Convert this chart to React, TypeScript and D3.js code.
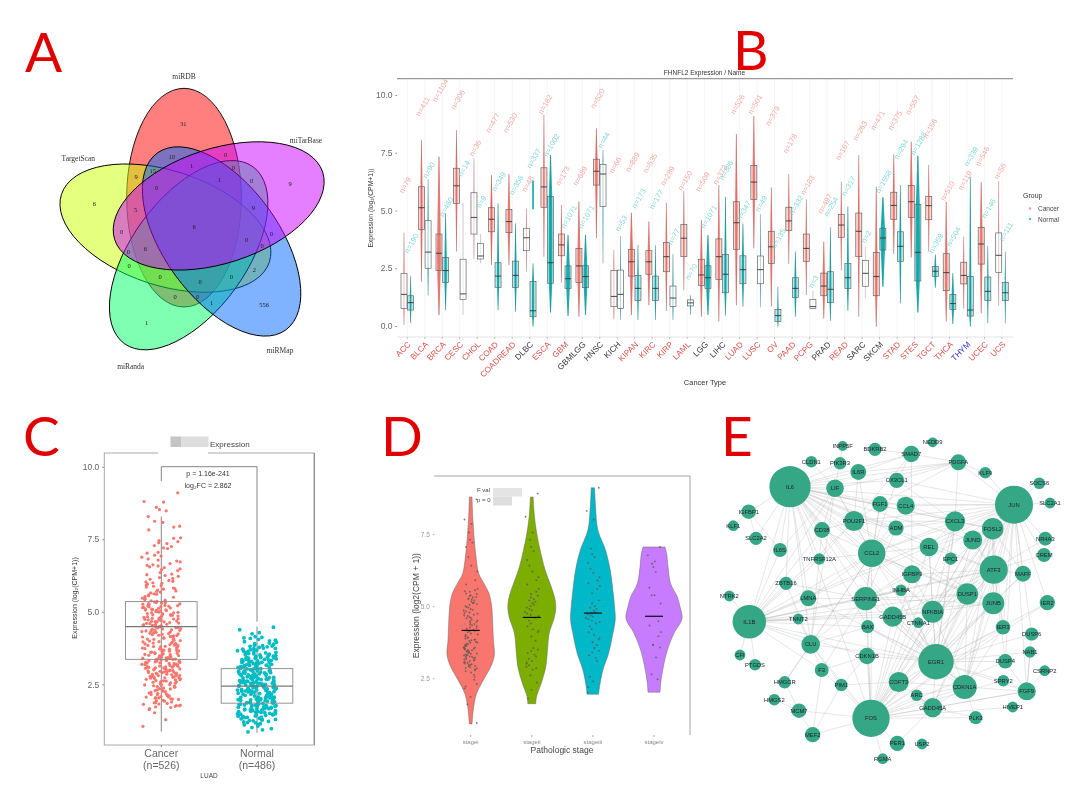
import { useEffect, useRef } from "react";
import * as d3 from "d3";

const vennColors = ["#ff0000", "#cc00ff", "#0066ff", "#00ff66", "#ccff00"];
const vennDrawOrder = [0, 4, 3, 2, 1];
const vennSetLabels: [string, number, number][] = [
  ["miRDB", 492, 170], ["miTarBase", 858, 360], ["TargetScan", 175, 416], ["miRMap", 780, 990], ["miRanda", 332, 1040],
];
const vennCounts: [string, number, number][] = [
  ["31", 490, 312], ["10", 455, 410], ["0", 617, 404], ["0", 640, 442], ["1", 515, 436], ["9", 348, 470], ["15", 398, 452],
  ["0", 410, 503], ["1", 598, 478], ["0", 695, 482], ["9", 810, 491], ["6", 223, 550], ["5", 347, 570], ["9", 700, 563],
  ["6", 522, 621], ["0", 305, 636], ["0", 754, 642], ["0", 680, 660], ["0", 726, 678], ["6", 376, 686], ["0", 325, 695],
  ["0", 327, 738], ["2", 703, 750], ["0", 420, 770], ["0", 540, 784], ["0", 634, 770], ["0", 465, 830], ["0", 533, 830],
  ["1", 575, 847], ["556", 732, 855], ["1", 380, 907],
];

// Panel B - pan-cancer boxes
const cancerTypes = ["ACC", "BLCA", "BRCA", "CESC", "CHOL", "COAD", "COADREAD", "DLBC", "ESCA", "GBM", "GBMLGG", "HNSC", "KICH", "KIPAN", "KIRC", "KIRP", "LAML", "LGG", "LIHC", "LUAD", "LUSC", "OV", "PAAD", "PCPG", "PRAD", "READ", "SARC", "SKCM", "STAD", "STES", "TGCT", "THCA", "THYM", "UCEC", "UCS"];
const blackTypes = ["DLBC", "GBMLGG", "HNSC", "KICH", "LGG", "LIHC", "PRAD", "SARC", "SKCM"];
const blueTypes = ["THYM"];
const cancerQ3 = [2.28, 6.03, 3.98, 6.83, 5.77, 5.12, 5.05, 4.23, 6.85, 3.98, 3.36, 7.22, 2.4, 3.32, 3.26, 3.62, 4.39, 2.89, 3.77, 5.38, 6.95, 4.1, 5.14, 3.98, 2.29, 4.83, 4.89, 3.19, 5.79, 6.08, 5.61, 3.13, 2.76, 4.27, 4.03];
const cancerMed = [1.37, 5.12, 3.15, 6.07, 4.7, 4.62, 4.52, 3.82, 6.02, 3.51, 2.6, 6.7, 1.28, 2.78, 2.78, 3.0, 3.8, 2.21, 3.0, 4.47, 6.23, 3.43, 4.55, 3.36, 1.73, 4.37, 4.1, 2.14, 5.22, 5.38, 5.21, 2.31, 2.19, 3.55, 3.06];
const cancerQ1 = [0.76, 4.18, 2.4, 5.31, 3.98, 4.08, 4.04, 3.26, 5.14, 3.04, 1.89, 6.1, 0.84, 2.16, 2.24, 2.35, 3.0, 1.76, 2.02, 3.32, 5.48, 2.71, 4.13, 2.8, 1.31, 3.84, 3.0, 1.31, 4.62, 4.7, 4.6, 1.53, 1.82, 2.68, 2.32];
const cancerLow = [0.04, 1.92, 0.48, 3.22, 2.9, 2.64, 2.64, 2.35, 3.0, 1.88, 0.4, 3.8, 0.29, 0.48, 0.9, 0.66, 1.56, 0.4, 0.19, 0.9, 3.36, 0.84, 2.68, 1.34, 0.33, 2.4, 0.4, -0.03, 3.12, 2.97, 3.22, 0.19, 0.76, 0.55, 0.88];
const cancerHigh = [4.04, 8.05, 7.33, 8.48, 7.26, 6.54, 6.58, 5.09, 9.13, 5.24, 5.38, 8.56, 3.29, 4.9, 4.52, 5.34, 5.84, 4.59, 6.1, 8.31, 9.09, 6.0, 6.58, 5.48, 3.65, 6.25, 7.4, 6.03, 7.43, 7.98, 6.97, 5.38, 3.87, 6.22, 6.28];
const normalQ3 = [1.31, 4.56, 2.97, 2.89, 3.58, 2.74, 2.81, 1.92, 5.6, 2.6, 2.61, 7.0, 2.42, 2.18, 2.16, 1.73, 1.13, 2.61, 3.1, 3.04, 3.03, 0.72, 2.09, 1.15, 2.35, 2.71, 2.84, 4.23, 4.08, 5.27, 2.57, 1.37, 2.14, 2.12, 1.89];
const normalMed = [1.01, 3.2, 2.4, 1.39, 3.03, 2.16, 2.19, 0.66, 2.74, 2.05, 2.14, 6.58, 1.37, 1.63, 1.63, 1.21, 1.0, 2.09, 2.24, 2.44, 2.44, 0.45, 1.63, 0.84, 1.59, 2.09, 2.28, 3.81, 3.45, 3.19, 2.37, 0.97, 0.69, 1.5, 1.44];
const normalQ1 = [0.69, 2.5, 1.88, 1.15, 2.9, 1.67, 1.67, 0.4, 1.85, 1.62, 1.66, 5.17, 0.76, 1.1, 1.1, 0.84, 0.87, 1.63, 1.44, 1.83, 1.83, 0.19, 1.23, 0.76, 1.01, 1.62, 1.72, 3.29, 2.8, 1.95, 2.14, 0.72, 0.43, 1.1, 1.1];
const normalLow = [0.12, 1.33, 0.69, 0.48, 2.71, 0.69, 0.62, -0.03, 0.58, 0.43, 0.48, 2.71, 0.26, 0.26, 0.26, 0.26, 0.48, 0.48, 0.45, 0.84, 0.81, -0.03, 0.4, 0.76, 0.23, 0.66, 1.2, 1.7, 0.98, 0.58, 1.66, 0.09, -0.03, 0.12, 0.12];
const normalHigh = [2.16, 6.35, 4.88, 5.34, 3.98, 5.3, 4.44, 2.71, 7.4, 3.94, 3.94, 7.62, 3.9, 3.51, 3.5, 3.12, 1.33, 3.94, 5.6, 4.44, 4.85, 1.7, 3.22, 1.52, 4.27, 5.17, 3.43, 5.57, 6.1, 7.37, 3.1, 2.28, 6.46, 3.46, 3.22];
const cancerN = [79, 411, 1104, 306, 36, 477, 530, 48, 182, 173, 689, 520, 66, 889, 535, 289, 150, 509, 373, 526, 501, 379, 178, 183, 497, 167, 263, 471, 375, 557, 156, 510, 119, 546, 56];
const normalN = [190, 90, 460, 14, 9, 349, 356, 337, 1002, 1071, 1071, 44, 53, 173, 177, 77, 70, 1071, 386, 347, 49, 135, 332, 3, 254, 317, 2, 1558, 294, 1288, 359, 504, 339, 146, 111];
const cancerLabelAt = [6.1, 9.5, 10.2, 9.8, 7.7, 8.8, 8.8, 6.15, 9.6, 6.5, 6.5, 9.85, 6.97, 7.1, 7.05, 6.5, 6.3, 6.25, 6.55, 9.6, 9.6, 9.1, 7.9, 6.1, 5.3, 7.6, 8.45, 8.9, 8.9, 9.57, 8.55, 5.85, 6.3, 7.35, 6.7];
const normalLabelAt = [3.58, 6.75, 5.16, 6.82, 5.38, 6.25, 6.1, 7.26, 7.83, 4.73, 4.73, 8.05, 4.44, 5.52, 5.48, 3.87, 2.35, 4.73, 6.75, 5.0, 5.3, 3.8, 5.24, 1.92, 5.17, 6.06, 3.87, 6.25, 7.65, 7.9, 3.58, 3.87, 7.33, 5.09, 4.09];
const panTicks = [0, 2.5, 5, 7.5, 10];
// the teal strip DLBC normal shows well above its box
const dlbcStrip = [5.05, 6.3];

// Panel C - LUAD cancer vs normal
const luadGroups = ["Cancer", "Normal"];
const luadSizes = [526, 486];
const luadBoxes = [
  { q1: 3.36, med: 4.49, q3: 5.35, low: 0.87, high: 8.28 },
  { q1: 1.85, med: 2.44, q3: 3.04, low: 0.83, high: 4.49 },
];
const luadCancer = [9.1, 8.8, 8.78, 8.6, 8.52, 8.48, 8.28, 8.12, 8.08, 7.95, 7.92, 7.82, 7.55, 7.53, 7.45, 7.42, 7.38, 7.35, 7.28, 7.25, 7.2, 7.18, 7.05, 7.02, 6.95, 6.92, 6.88, 6.82, 6.78, 6.72, 6.66, 6.62, 6.58, 6.55, 6.52, 6.48, 6.42, 6.35, 6.3, 6.25, 6.22, 6.18, 6.12, 6.08, 6.05, 6.0, 5.98, 5.95, 5.92, 5.88, 5.85, 5.82, 5.78, 5.75, 5.72, 5.68, 5.65, 5.62, 5.58, 5.55, 5.52, 5.5, 5.47, 5.45, 5.42, 5.4, 5.38, 5.36, 5.34, 5.32, 5.3, 5.28, 5.26, 5.25, 5.22, 5.2, 5.19, 5.17, 5.15, 5.13, 5.12, 5.1, 5.08, 5.06, 5.05, 5.03, 5.01, 4.99, 4.98, 4.96, 4.94, 4.92, 4.9, 4.88, 4.87, 4.85, 4.83, 4.81, 4.79, 4.77, 4.76, 4.74, 4.72, 4.7, 4.68, 4.66, 4.65, 4.63, 4.61, 4.59, 4.57, 4.55, 4.54, 4.52, 4.5, 4.48, 4.46, 4.44, 4.42, 4.4, 4.38, 4.36, 4.34, 4.32, 4.3, 4.28, 4.26, 4.24, 4.21, 4.19, 4.17, 4.15, 4.13, 4.1, 4.08, 4.06, 4.04, 4.02, 3.99, 3.97, 3.95, 3.93, 3.91, 3.89, 3.87, 3.85, 3.83, 3.81, 3.79, 3.77, 3.75, 3.73, 3.71, 3.69, 3.67, 3.65, 3.63, 3.61, 3.59, 3.57, 3.55, 3.53, 3.51, 3.5, 3.48, 3.46, 3.45, 3.43, 3.42, 3.4, 3.39, 3.37, 3.36, 3.34, 3.33, 3.31, 3.3, 3.28, 3.27, 3.25, 3.24, 3.22, 3.21, 3.19, 3.18, 3.16, 3.15, 3.13, 3.11, 3.1, 3.08, 3.06, 3.05, 3.03, 3.01, 3.0, 2.98, 2.96, 2.95, 2.93, 2.91, 2.9, 2.88, 2.87, 2.85, 2.84, 2.82, 2.81, 2.8, 2.78, 2.77, 2.75, 2.74, 2.72, 2.71, 2.69, 2.67, 2.65, 2.63, 2.61, 2.59, 2.57, 2.55, 2.53, 2.5, 2.48, 2.46, 2.44, 2.42, 2.4, 2.37, 2.34, 2.31, 2.28, 2.25, 2.22, 2.19, 2.17, 2.14, 2.12, 2.1, 2.08, 2.06, 2.04, 2.02, 2.0, 1.98, 1.95, 1.92, 1.89, 1.86, 1.84, 1.81, 1.78, 1.76, 1.74, 1.72, 1.63, 1.52, 1.28, 1.05,
  5.31, 5.27, 5.21, 5.18, 5.14, 5.09, 5.07, 5.04, 5.0, 4.97, 4.93, 4.89, 4.86, 4.82, 4.78, 4.75, 4.71, 4.67, 4.64, 4.6, 4.56, 4.53, 4.49, 4.45, 4.41, 4.37, 4.33, 4.29, 4.25, 4.22, 4.18, 4.14, 4.09, 4.05, 4.01, 3.96, 3.92, 3.88, 3.84, 3.8, 3.76, 3.72, 3.68, 3.64, 3.6, 3.56, 3.52, 3.49, 3.44, 3.41, 3.38, 3.35, 3.32, 3.29, 3.26, 3.23, 3.2, 3.17, 3.14, 3.12, 3.09, 3.07, 3.04, 3.02, 2.99, 2.97, 2.94, 2.92, 2.89, 2.86, 2.83, 2.79, 2.76, 2.73, 2.7, 2.66, 2.62, 2.58, 2.54, 2.49, 2.45, 2.41, 2.35, 2.3, 2.26, 2.2, 2.15, 2.11, 2.07, 2.03, 1.99, 1.93, 1.87, 1.82, 1.77, 1.7, 1.66, 5.6, 5.7, 5.8, 5.9, 6.03, 6.15, 6.28, 6.45, 6.6, 6.75];
const luadNormal = [4.47, 4.38, 4.28, 4.24, 4.14, 4.12, 4.1, 4.08, 4.05, 4.02, 4.0, 3.97, 3.95, 3.92, 3.9, 3.88, 3.85, 3.83, 3.81, 3.79, 3.77, 3.75, 3.73, 3.71, 3.69, 3.68, 3.66, 3.64, 3.62, 3.6, 3.58, 3.56, 3.55, 3.53, 3.51, 3.49, 3.47, 3.46, 3.44, 3.42, 3.41, 3.39, 3.37, 3.36, 3.34, 3.33, 3.31, 3.3, 3.28, 3.27, 3.25, 3.24, 3.22, 3.21, 3.19, 3.18, 3.17, 3.15, 3.14, 3.12, 3.11, 3.1, 3.08, 3.07, 3.05, 3.04, 3.03, 3.01, 3.0, 2.99, 2.97, 2.96, 2.95, 2.93, 2.92, 2.91, 2.89, 2.88, 2.87, 2.85, 2.84, 2.83, 2.82, 2.8, 2.79, 2.78, 2.77, 2.75, 2.74, 2.73, 2.72, 2.7, 2.69, 2.68, 2.67, 2.65, 2.64, 2.63, 2.62, 2.6, 2.59, 2.58, 2.57, 2.55, 2.54, 2.53, 2.52, 2.5, 2.49, 2.48, 2.47, 2.45, 2.44, 2.43, 2.42, 2.4, 2.39, 2.38, 2.37, 2.35, 2.34, 2.33, 2.32, 2.3, 2.29, 2.28, 2.27, 2.25, 2.24, 2.23, 2.22, 2.2, 2.19, 2.18, 2.17, 2.15, 2.14, 2.13, 2.12, 2.1, 2.09, 2.08, 2.07, 2.05, 2.04, 2.03, 2.02, 2.0, 1.99, 1.98, 1.97, 1.95, 1.94, 1.93, 1.91, 1.9, 1.89, 1.87, 1.86, 1.85, 1.83, 1.82, 1.81, 1.79, 1.78, 1.76, 1.75, 1.73, 1.72, 1.71, 1.69, 1.68, 1.66, 1.65, 1.63, 1.62, 1.6, 1.59, 1.57, 1.55, 1.54, 1.52, 1.5, 1.48, 1.47, 1.45, 1.43, 1.41, 1.39, 1.37, 1.35, 1.33, 1.31, 1.29, 1.27, 1.25, 1.22, 1.2, 1.17, 1.14, 1.1, 1.06, 1.01, 0.97, 0.93, 0.86,
  3.82, 3.74, 3.7, 3.63, 3.59, 3.54, 3.5, 3.45, 3.43, 3.38, 3.35, 3.32, 3.29, 3.26, 3.23, 3.2, 3.16, 3.13, 3.09, 3.06, 3.02, 2.98, 2.94, 2.9, 2.86, 2.81, 2.76, 2.71, 2.66, 2.61, 2.56, 2.51, 2.46, 2.41, 2.36, 2.31, 2.26, 2.21, 2.16, 2.11, 2.06, 2.01, 1.96, 1.92, 1.88, 1.84, 1.8, 1.77, 1.74, 1.7, 1.67, 1.64, 1.61, 1.58, 1.56, 1.53, 1.49, 1.46, 1.44, 1.4, 1.36, 1.32, 1.28, 1.24, 1.18, 1.12, 3.4, 3.27, 3.16, 3.06, 2.96, 2.86, 2.76, 2.66, 2.56, 2.46, 2.36, 2.26, 2.16, 2.06, 1.96, 1.86, 1.76, 1.66, 1.56, 1.46];

// Panel D - pathologic stage violins, value then width of the density at that value
const stages = ["stagei", "stageii", "stageiii", "stageiv"];
const stageColors = ["#f8766d", "#7cae00", "#00b8c8", "#c77cff"];
const stageMeans = [4.16, 4.61, 4.76, 4.65];
const stageDensity: [number, number][][] = [
  [[8.78, 4], [8.09, 6], [7.4, 10], [6.7, 16], [6.13, 24], [5.78, 40], [5.44, 55], [4.98, 63], [4.4, 66], [3.82, 68], [3.31, 71], [2.9, 60], [2.44, 38], [1.98, 18], [1.52, 9], [0.92, 4]],
  [[8.78, 4], [8.09, 8], [7.51, 15], [6.94, 25], [6.25, 40], [5.78, 55], [5.32, 68], [4.98, 72], [4.63, 68], [4.05, 52], [3.47, 47], [2.9, 42], [2.32, 28], [1.86, 14], [1.62, 12]],
  [[9.1, 5], [8.43, 8], [7.63, 15], [6.94, 38], [6.25, 52], [5.55, 60], [4.98, 65], [4.52, 67], [3.94, 58], [3.36, 47], [2.79, 30], [2.21, 20], [1.95, 17]],
  [[7.05, 33], [6.82, 38], [6.36, 42], [5.78, 50], [5.32, 70], [4.98, 78], [4.57, 84], [4.06, 60], [3.48, 40], [2.9, 28], [2.33, 20], [2.02, 18]],
];
const stagePoints = [
  [8.7, 8.0, 7.85, 7.55, 7.3, 7.2, 7.05, 6.7, 6.4, 6.2, 5.9, 5.75, 5.6, 5.55, 5.5, 5.42, 5.35, 5.3, 5.25, 5.2, 5.15, 5.1, 5.05, 5.0, 4.95, 4.9, 4.85, 4.82, 4.78, 4.74, 4.7, 4.66, 4.62, 4.58, 4.54, 4.5, 4.46, 4.42, 4.38, 4.34, 4.3, 4.26, 4.22, 4.18, 4.14, 4.1, 4.05, 4.0, 3.96, 3.92, 3.88, 3.85, 3.82, 3.79, 3.76, 3.73, 3.7, 3.68, 3.65, 3.62, 3.6, 3.57, 3.55, 3.52, 3.5, 3.47, 3.45, 3.42, 3.4, 3.38, 3.35, 3.33, 3.3, 3.28, 3.25, 3.23, 3.2, 3.17, 3.15, 3.12, 3.1, 3.07, 3.04, 3.01, 2.98, 2.95, 2.92, 2.88, 2.84, 2.8, 2.75, 2.7, 2.62, 2.55, 2.45, 2.3, 2.22, 2.15, 1.85, 1.6, 0.95,
    5.52, 5.44, 5.38, 5.32, 5.27, 5.22, 5.12, 5.07, 4.97, 4.87, 4.76, 4.68, 4.6, 4.48, 4.36, 4.24, 4.12, 4.02, 3.9, 3.83, 3.74, 3.66, 3.58, 3.53, 3.48, 3.43, 3.36, 3.31, 3.26, 3.21, 3.13, 3.05, 2.99, 2.93, 2.86, 2.78],
  [8.9, 8.1, 7.55, 7.3, 7.05, 6.9, 6.6, 6.4, 6.2, 6.0, 5.9, 5.75, 5.6, 5.5, 5.42, 5.36, 5.3, 5.24, 5.2, 5.15, 5.1, 5.05, 5.0, 4.95, 4.9, 4.85, 4.8, 4.75, 4.7, 4.65, 4.6, 4.5, 4.4, 4.3, 4.2, 4.15, 4.1, 3.95, 3.8, 3.55, 3.5, 3.45, 3.38, 3.32, 3.25, 3.18, 3.1, 3.05, 3.0, 2.95, 2.9, 2.85, 2.8, 2.6, 2.35, 2.1, 1.8],
  [9.1, 8.3, 8.0, 7.0, 6.8, 6.7, 6.5, 6.3, 6.15, 6.0, 5.9, 5.8, 5.7, 5.6, 5.45, 5.2, 5.1, 5.0, 4.95, 4.9, 4.85, 4.8, 4.76, 4.72, 4.68, 4.64, 4.6, 4.55, 4.5, 4.45, 4.4, 4.3, 4.2, 4.1, 4.0, 3.9, 3.85, 3.75, 3.65, 3.55, 3.45, 3.4, 3.3, 3.2, 3.1, 2.55, 2.4, 2.2, 2.0],
  [7.05, 6.76, 6.55, 6.47, 6.36, 6.18, 5.64, 5.38, 5.38, 5.09, 4.48, 4.33, 4.1, 3.96, 3.65, 3.57, 3.66, 3.22, 2.64, 2.47],
];

// Panel E - network: gene, layout x, layout y, degree
const networkNodes: [string, number, number, number][] = [
  ["INPP5F", 842.7, 446, 5], ["BDKRB2", 875, 449.3, 9], ["NEDD9", 932.7, 442.3, 5], ["SMAD7", 911.3, 454, 14], ["PDGFA", 958.3, 462.3, 13],
  ["KLF9", 985.3, 472.7, 7], ["CLDN1", 811.3, 461.7, 7], ["PIK3R3", 840, 463.3, 8], ["IL6R", 858.3, 472, 13], ["CX3CL1", 896.7, 480.3, 12],
  ["IL6", 790, 486.7, 88], ["JUN", 1014, 504.7, 75], ["SOCS6", 1039.3, 483.3, 7], ["SLC2A1", 1050, 503, 6], ["LIF", 835, 488.3, 16],
  ["FGF1", 880, 504, 13], ["CCL4", 905.7, 505.7, 17], ["IGFBP1", 748.7, 511.7, 11], ["KLF1", 733.3, 525.7, 6], ["POU2F1", 854, 521, 21],
  ["CD38", 822, 530, 13], ["ADM", 896, 528, 12], ["CXCL3", 955, 521.3, 21], ["FOSL2", 992.7, 528.7, 24], ["SLC2A2", 756, 538.3, 9],
  ["NR4A3", 1045.3, 538.7, 10], ["JUND", 972.7, 540, 19], ["REL", 929, 547, 18], ["IL6S", 780, 550, 10], ["CCL2", 871.7, 553.3, 39],
  ["CREM", 1044, 555, 10], ["TNFRSF12A", 819.3, 559, 7], ["EPC1", 950.7, 558.7, 8], ["ATF3", 993.7, 569.7, 41], ["MAFF", 1023, 573.7, 13],
  ["IGFBP3", 912, 574.3, 17], ["ZBTB16", 786, 583.3, 9], ["DUSP1", 967.3, 594, 24], ["INHBA", 901, 590.3, 7], ["NTRK2", 729.3, 596, 6],
  ["LMNA", 808.3, 598.3, 13], ["SERPINE1", 865.7, 598.7, 28], ["JUNB", 993.3, 603.3, 25], ["IER2", 1047.3, 602.7, 12], ["IL1B", 749.3, 621.7, 58],
  ["TNNT2", 798.3, 619, 6], ["GADD45B", 892.7, 616.7, 21], ["NFKBIA", 932.7, 611.7, 25], ["CTNNA1", 918.3, 622.7, 6], ["BAX", 867.7, 626.7, 9],
  ["IER3", 1003, 627.3, 11], ["DUSP6", 1031.7, 634, 9], ["CLU", 810.7, 644.3, 18], ["CFI", 740, 655, 6], ["CDKN1B", 867, 656, 14],
  ["EGR1", 936, 661.7, 65], ["NAB1", 1030, 652, 7], ["DUSP4", 1005.3, 661.3, 11], ["CSRNP2", 1044.7, 670.7, 6], ["PTGDS", 755, 664.7, 7],
  ["F3", 821.7, 670, 10], ["HMGCR", 784.7, 682.3, 8], ["SPRY2", 1003.3, 680.7, 7], ["COFT3", 898.7, 682, 21], ["PIM1", 841.3, 685, 8],
  ["CDKN1A", 964.7, 687, 30], ["FGF9", 1026.7, 691.3, 17], ["HMGS2", 774.3, 699.7, 7], ["ARC", 916.7, 695.3, 7], ["MCM7", 799, 710.7, 11],
  ["GADD45A", 932.7, 707.7, 19], ["FOS", 871, 718.3, 72], ["PLK3", 975.7, 717.7, 9], ["HIVEP1", 1012.7, 707, 6], ["MEF2", 812.7, 734.7, 12],
  ["PER1", 897.3, 743.3, 12], ["USP2", 922, 744, 6], ["RGMA", 882.7, 758.7, 6],
];
const networkEdges: [string, string[]][] = [
  ["IL6", ["IL6R", "PIK3R3", "LIF", "POU2F1", "FGF1", "CCL4", "CX3CL1", "CD38", "ADM", "CXCL3", "CCL2", "IL6S", "ZBTB16", "LMNA", "SERPINE1", "IL1B", "IGFBP1", "SLC2A2", "JUN", "REL", "JUND", "ATF3", "TNFRSF12A", "NFKBIA", "EGR1", "FOS", "CDKN1A", "GADD45B", "DUSP1", "IGFBP3", "PDGFA", "SMAD7", "FOSL2", "JUNB", "CLU", "BAX"]],
  ["JUN", ["PDGFA", "KLF9", "SOCS6", "SLC2A1", "CCL4", "FGF1", "CXCL3", "FOSL2", "JUND", "REL", "ATF3", "MAFF", "NR4A3", "CREM", "JUNB", "DUSP1", "EGR1", "FOS", "NFKBIA", "IER2", "IER3", "FGF9", "DUSP6", "CCL2", "SERPINE1", "POU2F1", "IL1B", "CDKN1A", "GADD45B", "CX3CL1", "ADM", "DUSP4", "GADD45A"]],
  ["FOS", ["EGR1", "ATF3", "JUNB", "DUSP1", "NFKBIA", "COFT3", "CDKN1A", "GADD45A", "GADD45B", "ARC", "PLK3", "FGF9", "PER1", "MEF2", "MCM7", "PIM1", "F3", "CDKN1B", "BAX", "SERPINE1", "IER2", "IER3", "FOSL2", "MAFF", "RGMA", "CCL2", "CTNNA1", "DUSP4", "SPRY2", "JUND", "CXCL3", "HIVEP1", "IGFBP3", "REL", "CLU"]],
  ["EGR1", ["ATF3", "FOSL2", "JUNB", "DUSP1", "NFKBIA", "COFT3", "CDKN1A", "GADD45A", "GADD45B", "FGF9", "IER2", "IER3", "DUSP6", "DUSP4", "NAB1", "MAFF", "SERPINE1", "CCL2", "JUND", "CTNNA1", "REL", "CXCL3", "IL1B", "CDKN1B", "BAX", "LMNA", "INHBA", "SPRY2", "CLU", "EPC1"]],
  ["IL1B", ["LMNA", "CCL2", "SERPINE1", "GADD45B", "NFKBIA", "ATF3", "CLU", "CFI", "PTGDS", "TNNT2", "F3", "ZBTB16", "NTRK2", "IL6S", "CD38", "TNFRSF12A", "POU2F1", "INHBA", "DUSP1", "JUNB", "BAX", "CDKN1B", "LIF", "REL"]],
  ["ATF3", ["FOSL2", "JUND", "JUNB", "DUSP1", "MAFF", "NFKBIA", "IER3", "CDKN1A", "COFT3", "CXCL3", "REL", "IGFBP3", "SERPINE1", "GADD45A", "DUSP4", "NR4A3", "CREM", "GADD45B"]],
  ["CCL2", ["POU2F1", "CCL4", "FGF1", "ADM", "CXCL3", "REL", "SERPINE1", "CD38", "LMNA", "NFKBIA", "LIF", "IL6R", "TNFRSF12A", "CX3CL1", "CLU", "IGFBP3", "JUNB", "HMGCR", "DUSP1"]],
  ["CDKN1A", ["COFT3", "GADD45A", "GADD45B", "NFKBIA", "FOSL2", "JUNB", "SERPINE1", "FGF9", "PLK3", "DUSP1", "IER3", "BAX", "ARC"]],
  ["SERPINE1", ["LMNA", "CLU", "JUNB", "DUSP1", "IGFBP3", "ADM", "INHBA", "GADD45B", "BAX", "FGF1", "ZBTB16", "F3"]],
  ["CLU", ["ZBTB16", "TNNT2", "CD38", "F3", "PIM1", "BAX", "HMGCR", "LIF"]],
  ["FOSL2", ["JUND", "MAFF", "CXCL3", "JUNB", "DUSP1", "NFKBIA", "IER3", "REL"]],
  ["POU2F1", ["LIF", "CD38", "FGF1", "IL6R", "CXCL3", "ADM", "TNFRSF12A", "SMAD7"]],
  ["PDGFA", ["CX3CL1", "KLF9", "LIF", "SMAD7", "CXCL3", "IL6R", "FGF1"]],
  ["NFKBIA", ["REL", "JUNB", "GADD45B", "CXCL3", "IGFBP3", "JUND", "DUSP1"]],
  ["FGF9", ["DUSP6", "DUSP4", "SPRY2", "CSRNP2", "GADD45A", "NAB1", "HIVEP1"]],
  ["SMAD7", ["BDKRB2", "IL6R", "IGFBP3", "CX3CL1"]],
  ["GADD45A", ["PLK3", "PER1", "ARC", "COFT3"]],
  ["CXCL3", ["CCL4", "CX3CL1", "EPC1", "REL", "ADM"]],
  ["LIF", ["CLDN1", "IL6S", "CD38", "INPP5F"]],
  ["MCM7", ["HMGS2", "MEF2", "HMGCR"]],
  ["F3", ["MEF2", "CDKN1B"]],
  ["IGFBP1", ["SLC2A2", "KLF1", "IL6S"]],
  ["PIM1", ["MEF2", "CDKN1B", "COFT3"]],
];

// fixed horizontal spread for the strip points, -1 to 1 (only the sideways jitter, values above are as read)
const jitter = (i: number) => {
  const h = Math.sin((i + 1) * 12.9898) * 43758.5453;
  return (h - Math.floor(h)) * 2 - 1;
};

export default function App() {
  const svgRef = useRef<SVGSVGElement>(null);

  useEffect(() => {
    if (!svgRef.current) return;
    const svg = d3.select(svgRef.current);
    svg.selectAll("*").remove();

    const sans = "'Liberation Sans', Arial, sans-serif";
    const serif = "'Liberation Serif', 'Times New Roman', serif";

    // the picture is soft all over, except the panel letters
    svg.append("defs").append("filter")
      .attr("id", "soft").attr("filterUnits", "userSpaceOnUse")
      .attr("x", 0).attr("y", 0).attr("width", 1080).attr("height", 797)
      .append("feGaussianBlur").attr("stdDeviation", 0.55);
    const root = svg.append("g").attr("filter", "url(#soft)");

    // ---------- A: venn ----------
    const venn = root.append("g");
    const vx = d3.scaleLinear().domain([0, 1020]).range([20, 360]);
    const vy = d3.scaleLinear().domain([0, 1110]).range([20, 390]);
    vennDrawOrder.forEach((i) => {
      venn.append("ellipse")
        .attr("transform", `translate(${vx(527)},${vy(617)}) rotate(${72 * i}) translate(${-35 / 3},${-84 / 3})`)
        .attr("rx", 172 / 3).attr("ry", 328 / 3)
        .attr("fill", vennColors[i]).attr("fill-opacity", 0.5)
        .attr("stroke", "#000").attr("stroke-width", 0.9);
    });
    venn.selectAll("text.set").data(vennSetLabels).join("text").attr("class", "set")
      .attr("x", (d) => vx(d[1])).attr("y", (d) => vy(d[2]))
      .attr("text-anchor", "middle").attr("dy", "0.35em")
      .attr("font-family", serif).attr("font-size", 7.5).attr("fill", "#333").text((d) => d[0]);
    venn.selectAll("text.count").data(vennCounts).join("text").attr("class", "count")
      .attr("x", (d) => vx(d[1])).attr("y", (d) => vy(d[2]))
      .attr("text-anchor", "middle").attr("dy", "0.35em")
      .attr("font-family", serif).attr("font-size", 6.5).attr("fill", "#222").text((d) => d[0]);

    // ---------- B: pan-cancer ----------
    const pan = root.append("g");
    const px = d3.scalePoint<string>().domain(cancerTypes).range([407.3, 1002]);
    const py = d3.scaleLinear().domain([0, 10]).range([326, 95]);
    const spread = d3.scaleSqrt().domain([0, 1100]).range([0, 2]);
    pan.selectAll("line.grid").data(cancerTypes).join("line").attr("class", "grid")
      .attr("x1", (d) => px(d)!).attr("x2", (d) => px(d)!)
      .attr("y1", 79).attr("y2", 337)
      .attr("stroke", "#eeeeee").attr("stroke-width", 0.6);
    pan.append("line").attr("x1", 397).attr("x2", 1013).attr("y1", 78.7).attr("y2", 78.7).attr("stroke", "#999").attr("stroke-width", 1.2);
    pan.append("line").attr("x1", 397).attr("x2", 1013).attr("y1", 337).attr("y2", 337).attr("stroke", "#ddd").attr("stroke-width", 0.8);
    pan.append("text").attr("x", 704.5).attr("y", 75).attr("text-anchor", "middle")
      .attr("font-family", sans).attr("font-size", 6.5).attr("fill", "#333").text("FHNFL2 Expression / Name");

    const panAxis = pan.append("g").attr("transform", "translate(397,0)")
      .call(d3.axisLeft(py).tickValues(panTicks).tickSize(1.5).tickFormat(d3.format(".1f") as any));
    panAxis.select(".domain").remove();
    panAxis.selectAll("line").attr("stroke", "#888");
    panAxis.selectAll("text").attr("fill", "#666").attr("font-size", 8.5).attr("font-family", sans);
    pan.append("text").attr("transform", "translate(373,208) rotate(-90)").attr("text-anchor", "middle")
      .attr("font-family", sans).attr("font-size", 6.8).attr("fill", "#333").text("Expression (log₂(CPM+1))");
    pan.append("text").attr("x", 705).attr("y", 385).attr("text-anchor", "middle")
      .attr("font-family", sans).attr("font-size", 7.5).attr("fill", "#333").text("Cancer Type");

    const spindle = d3.area<[number, number]>();
    const drawGroup = (
      name: string, off: number, color: string, labelColor: string,
      q1: number, med: number, q3: number, low: number, high: number, n: number, labelAt: number,
    ) => {
      const cx = px(name)! + off;
      const w = spread(n);
      const shape: [number, number][] = [[low, 0.22], [q1, 0.9], [med, 1], [q3, 0.9], [high, 0.22]];
      spindle.y((d) => py(d[0])).x0((d) => cx - w * d[1]).x1((d) => cx + w * d[1]);
      if (n > 20) pan.append("path").attr("d", spindle(shape)).attr("fill", color).attr("fill-opacity", 0.9);
      if (name === "DLBC" && off > 0) {
        pan.append("line").attr("x1", cx).attr("x2", cx).attr("y1", py(dlbcStrip[1])).attr("y2", py(dlbcStrip[0]))
          .attr("stroke", color).attr("stroke-width", 1.6);
      }
      pan.append("line").attr("x1", cx).attr("x2", cx).attr("y1", py(high)).attr("y2", py(low))
        .attr("stroke", "#555").attr("stroke-opacity", 0.5).attr("stroke-width", 0.6);
      pan.append("rect").attr("x", cx - 3).attr("width", 6).attr("y", py(q3)).attr("height", py(q1) - py(q3))
        .attr("fill", n < 100 ? "#fff" : color).attr("fill-opacity", n < 100 ? 0.6 : 0.28)
        .attr("stroke", "#666").attr("stroke-width", 0.7);
      pan.append("line").attr("x1", cx - 3).attr("x2", cx + 3).attr("y1", py(med)).attr("y2", py(med))
        .attr("stroke", "#333").attr("stroke-width", 0.9);
      pan.append("text").attr("transform", `translate(${cx + (off < 0 ? 1.2 : 0.7)},${py(labelAt)}) rotate(-60)`)
        .attr("text-anchor", "middle").attr("dy", "0.35em")
        .attr("font-family", sans).attr("font-size", 7.5).attr("fill", labelColor).text(`n=${n}`);
    };
    cancerTypes.forEach((name, i) => {
      drawGroup(name, -3.3, "#f8766d", "#f6a9a4", cancerQ1[i], cancerMed[i], cancerQ3[i], cancerLow[i], cancerHigh[i], cancerN[i], cancerLabelAt[i]);
      drawGroup(name, 3.3, "#00adb0", "#86d9db", normalQ1[i], normalMed[i], normalQ3[i], normalLow[i], normalHigh[i], normalN[i], normalLabelAt[i]);
      pan.append("line").attr("x1", px(name)!).attr("x2", px(name)!).attr("y1", 337).attr("y2", 339).attr("stroke", "#999").attr("stroke-width", 0.6);
      pan.append("text").attr("transform", `translate(${px(name)! + 4},345) rotate(-45)`)
        .attr("text-anchor", "end").attr("font-family", sans).attr("font-size", 8.2)
        .attr("fill", blueTypes.includes(name) ? "#2a2ad0" : blackTypes.includes(name) ? "#333" : "#d9504a").text(name);
    });
    pan.append("text").attr("x", 1023).attr("y", 198).attr("font-family", sans).attr("font-size", 7).attr("fill", "#333").text("Group");
    [["Cancer", "#f8766d"], ["Normal", "#00b2b6"]].forEach(([label, color], i) => {
      pan.append("circle").attr("cx", 1030).attr("cy", 208.5 + i * 10.5).attr("r", 1.3).attr("fill", color).attr("fill-opacity", 0.7);
      pan.append("text").attr("x", 1038).attr("y", 211 + i * 10.5).attr("font-family", sans).attr("font-size", 6.5).attr("fill", "#444").text(label);
    });

    // ---------- C: LUAD ----------
    const luad = root.append("g");
    const cx = d3.scalePoint<string>().domain(luadGroups).range([161.3, 257]);
    const cy = d3.scaleLinear().domain([2.5, 10]).range([684.3, 466.7]);
    const band = d3.scaleLinear().domain([-1, 1]).range([-19.5, 19.5]);
    luad.append("rect").attr("x", 104.3).attr("y", 453).attr("width", 210).attr("height", 292)
      .attr("fill", "#fff").attr("stroke", "#aaa").attr("stroke-width", 1);
    luad.append("line").attr("x1", 314.3).attr("x2", 314.3).attr("y1", 453).attr("y2", 745).attr("stroke", "#888").attr("stroke-width", 1.1);
    const cAxis = luad.append("g").attr("transform", "translate(104.3,0)")
      .call(d3.axisLeft(cy).tickValues([2.5, 5, 7.5, 10]).tickSize(2).tickFormat(d3.format(".1f") as any));
    cAxis.select(".domain").remove();
    cAxis.selectAll("line").attr("stroke", "#888");
    cAxis.selectAll("text").attr("fill", "#666").attr("font-size", 8.5).attr("font-family", sans);

    [luadCancer, luadNormal].forEach((values, g) => {
      const center = cx(luadGroups[g])!;
      const color = g === 0 ? "#f8766d" : "#00bcc4";
      const box = luadBoxes[g];
      luad.append("line").attr("x1", center).attr("x2", center).attr("y1", cy(box.high)).attr("y2", cy(box.low))
        .attr("stroke", "#777").attr("stroke-width", 0.9);
      luad.selectAll(`circle.g${g}`).data(values).join("circle").attr("class", `g${g}`)
        .attr("cx", (_, i) => center + band(jitter(i)))
        .attr("cy", (d) => cy(d))
        .attr("r", g === 0 ? 1.6 : 1.9).attr("fill", color);
      luad.append("rect").attr("x", center - 35.8).attr("width", 71.6).attr("y", cy(box.q3)).attr("height", cy(box.q1) - cy(box.q3))
        .attr("fill", "none").attr("stroke", "#888").attr("stroke-width", 0.9);
      luad.append("line").attr("x1", center - 35.8).attr("x2", center + 35.8).attr("y1", cy(box.med)).attr("y2", cy(box.med))
        .attr("stroke", "#777").attr("stroke-width", 1.2);
      luad.append("line").attr("x1", center).attr("x2", center).attr("y1", 745).attr("y2", 747).attr("stroke", "#888");
      luad.append("text").attr("x", center).attr("y", 757).attr("text-anchor", "middle")
        .attr("font-family", sans).attr("font-size", 10.5).attr("fill", "#666").text(luadGroups[g]);
      luad.append("text").attr("x", center).attr("y", 769).attr("text-anchor", "middle")
        .attr("font-family", sans).attr("font-size", 10.5).attr("fill", "#666").text(`(n=${luadSizes[g]})`);
    });
    // significance bracket
    luad.append("path")
      .attr("d", `M${cx("Cancer")},${cy(9.5)}V${cy(10)}H${cx("Normal")}V${cy(4.66)}`)
      .attr("fill", "none").attr("stroke", "#777").attr("stroke-width", 0.9);
    luad.append("text").attr("x", 208).attr("y", 475.5).attr("text-anchor", "middle")
      .attr("font-family", sans).attr("font-size", 7).attr("fill", "#333").text("p = 1.16e-241");
    luad.append("text").attr("x", 208).attr("y", 488).attr("text-anchor", "middle")
      .attr("font-family", sans).attr("font-size", 7).attr("fill", "#333").text("log₂FC = 2.862");
    luad.append("rect").attr("x", 158).attr("y", 436).attr("width", 50).attr("height", 30).attr("fill", "#fff");
    luad.append("rect").attr("x", 170.5).attr("y", 436.5).attr("width", 11).attr("height", 10.5).attr("fill", "#c4c4c4");
    luad.append("rect").attr("x", 181.5).attr("y", 436.5).attr("width", 27).attr("height", 10.5).attr("fill", "#dddddd");
    luad.append("text").attr("x", 210).attr("y", 447).attr("font-family", sans).attr("font-size", 8).attr("fill", "#444").text("Expression");
    luad.append("text").attr("x", 209).attr("y", 778).attr("text-anchor", "middle").attr("font-family", sans).attr("font-size", 6.5).attr("fill", "#444").text("LUAD");
    luad.append("text").attr("transform", "translate(76.7,598) rotate(-90)").attr("text-anchor", "middle")
      .attr("font-family", sans).attr("font-size", 7).attr("fill", "#333").text("Expression (log₂(CPM+1))");

    // ---------- D: stages ----------
    const stage = root.append("g");
    const dx = d3.scalePoint<string>().domain(stages).range([470.7, 654]);
    const dy = d3.scaleLinear().domain([2.5, 7.5]).range([678.3, 534]);
    const dw = d3.scaleLinear().domain([0, 84]).range([0, 28]);
    const dBand = d3.scaleLinear().domain([-1, 1]).range([-7, 7]);
    stage.append("path").attr("d", "M434.3,476H690V735").attr("fill", "none").attr("stroke", "#999").attr("stroke-width", 0.9);
    const dAxis = stage.append("g").attr("transform", "translate(434.3,0)")
      .call(d3.axisLeft(dy).tickValues([2.5, 5, 7.5]).tickSize(1.5).tickFormat(d3.format(".1f") as any));
    dAxis.select(".domain").remove();
    dAxis.selectAll("line").attr("stroke", "#aaa");
    dAxis.selectAll("text").attr("fill", "#999").attr("font-size", 6.5).attr("font-family", sans);
    stages.forEach((name, s) => {
      const center = dx(name)!;
      const violin = d3.area<[number, number]>()
        .y((d) => dy(d[0])).x0((d) => center - dw(d[1])).x1((d) => center + dw(d[1]))
        .curve(d3.curveCatmullRom);
      stage.append("path").attr("d", violin(stageDensity[s])).attr("fill", stageColors[s]).attr("stroke", "#666").attr("stroke-width", 0.5);
      stage.selectAll(`circle.s${s}`).data(stagePoints[s]).join("circle").attr("class", `s${s}`)
        .attr("cx", (_, i) => center + dBand(jitter(i)))
        .attr("cy", (d) => dy(d))
        .attr("r", 0.95).attr("fill", "#555").attr("fill-opacity", 0.75);
      stage.append("line").attr("x1", center - 9).attr("x2", center + 9).attr("y1", dy(stageMeans[s])).attr("y2", dy(stageMeans[s]))
        .attr("stroke", "#000").attr("stroke-width", 1.1);
      stage.append("line").attr("x1", center).attr("x2", center).attr("y1", 735).attr("y2", 737).attr("stroke", "#aaa");
      stage.append("text").attr("x", center).attr("y", 743.5).attr("text-anchor", "middle")
        .attr("font-family", sans).attr("font-size", 6).attr("fill", "#888").text(name);
    });
    stage.append("text").attr("x", 562).attr("y", 752.5).attr("text-anchor", "middle").attr("font-family", sans).attr("font-size", 8.5).attr("fill", "#444").text("Pathologic stage");
    stage.append("text").attr("transform", "translate(419,605.7) rotate(-90)").attr("text-anchor", "middle")
      .attr("font-family", sans).attr("font-size", 8.5).attr("fill", "#444").text("Expression (log2(CPM + 1))");
    stage.append("text").attr("x", 477).attr("y", 492).attr("font-family", sans).attr("font-size", 6).attr("fill", "#444").text("F val");
    stage.append("text").attr("x", 477).attr("y", 501.5).attr("font-family", sans).attr("font-size", 6).attr("fill", "#444").text("p = 0");
    stage.append("rect").attr("x", 493).attr("y", 488).attr("width", 29).attr("height", 8.5).attr("fill", "#e4e4e4");
    stage.append("rect").attr("x", 493).attr("y", 496.5).attr("width", 19).attr("height", 9).attr("fill", "#dedede");

    // ---------- E: network ----------
    const net = root.append("g");
    const nodeSize = d3.scaleSqrt().domain([0, 100]).range([0, 22]);
    const byName = new Map(networkNodes.map((n) => [n[0], n]));
    networkEdges.forEach(([from, targets]) => {
      targets.forEach((to) => {
        const a = byName.get(from);
        const b = byName.get(to);
        if (!a || !b) return;
        net.append("line").attr("x1", a[1]).attr("y1", a[2]).attr("x2", b[1]).attr("y2", b[2])
          .attr("stroke", "#aaa").attr("stroke-opacity", 0.5).attr("stroke-width", 0.6);
      });
    });
    net.selectAll("circle").data(networkNodes).join("circle")
      .attr("cx", (d) => d[1]).attr("cy", (d) => d[2]).attr("r", (d) => nodeSize(d[3]))
      .attr("fill", "#35a785");
    net.selectAll("text").data(networkNodes).join("text")
      .attr("x", (d) => d[1]).attr("y", (d) => d[2]).attr("dy", "0.35em").attr("text-anchor", "middle")
      .attr("font-family", sans).attr("font-size", 5.8).attr("fill", "#223").text((d) => d[0]);

    // ---------- panel letters ----------
    const letters: [string, number, number][] = [["A", 25, 72], ["B", 733, 70], ["C", 23, 456], ["D", 381, 456], ["E", 721, 456]];
    svg.selectAll("text.letter").data(letters).join("text").attr("class", "letter")
      .attr("x", (d) => d[1]).attr("y", (d) => d[2])
      .attr("font-family", "Lato, sans-serif").attr("font-size", 55).attr("fill", "#e00000").text((d) => d[0]);
  }, []);

  return <svg ref={svgRef} width={1080} height={797} style={{ position: "absolute", left: 0, top: 0, background: "#fff" }} />;
}
